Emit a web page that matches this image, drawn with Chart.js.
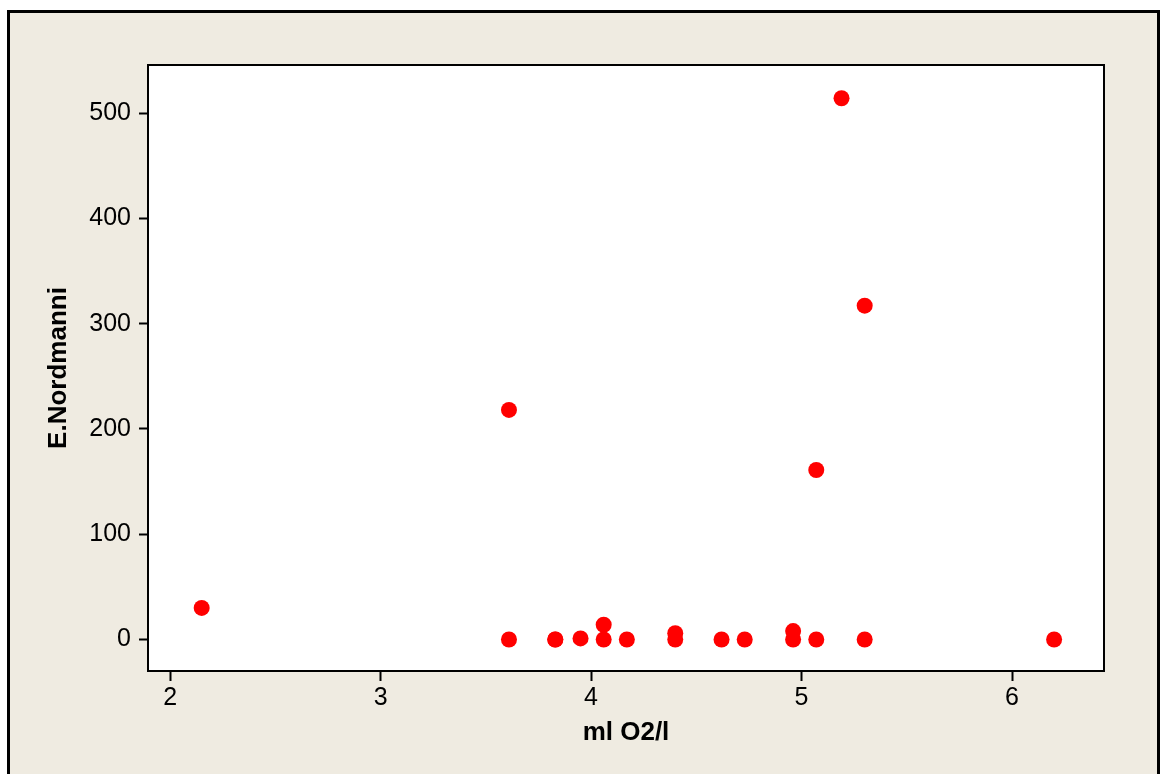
<!DOCTYPE html>
<html>
<head>
<meta charset="utf-8">
<script src="https://cdn.jsdelivr.net/npm/chart.js@4/dist/chart.umd.min.js"></script>
<style>
html,body{margin:0;padding:0;background:#ffffff;}
#wrap{width:1161px;height:774px;}
</style>
</head>
<body>
<div id="wrap"><canvas id="c" width="1161" height="774"></canvas></div>
<script>
// Data
const oxygen = [2.15, 3.61, 3.61, 3.83, 3.83, 3.95, 4.06, 4.06, 4.17, 4.40, 4.40, 4.62, 4.73, 4.96, 4.96, 5.07, 5.07, 5.19, 5.30, 5.30, 6.20];
const nordmanni = [30, 218, 0, 0, 0, 1, 14, 0, 0, 6, 0, 0, 0, 8, 0, 161, 0, 514, 317, 0, 0];
const xTicks = [2, 3, 4, 5, 6];
const yTicks = [0, 100, 200, 300, 400, 500];
const xTitle = 'ml O2/l';
const yTitle = 'E.Nordmanni';

const points = oxygen.map((x, i) => ({x: x, y: nordmanni[i]}));

const framePlugin = {
  id: 'frame',
  beforeDraw(chart) {
    const ctx = chart.ctx;
    const a = chart.chartArea;
    ctx.save();
    ctx.fillStyle = '#ffffff';
    ctx.fillRect(0, 0, chart.width, chart.height);
    ctx.fillStyle = '#efebe1';
    ctx.fillRect(8.5, 11.5, 1150, 800);
    ctx.strokeStyle = '#000000';
    ctx.lineWidth = 3;
    ctx.strokeRect(8.5, 11.5, 1150, 800);
    ctx.fillStyle = '#ffffff';
    ctx.fillRect(a.left, a.top, a.right - a.left, a.bottom - a.top);
    ctx.restore();
  },
  afterDatasetsDraw(chart) {
    const ctx = chart.ctx;
    const a = chart.chartArea;
    ctx.save();
    ctx.strokeStyle = '#000000';
    ctx.lineWidth = 2;
    ctx.strokeRect(a.left, a.top, a.right - a.left, a.bottom - a.top);
    ctx.restore();
  }
};

new Chart(document.getElementById('c'), {
  type: 'scatter',
  data: {
    datasets: [{
      data: points,
      backgroundColor: '#ff0000',
      borderWidth: 0,
      pointRadius: 8,
      pointHoverRadius: 8
    }]
  },
  options: {
    responsive: false,
    animation: false,
    devicePixelRatio: 1,
    layout: {padding: {left: 0, top: 65, right: 57, bottom: 0}},
    plugins: {legend: {display: false}, tooltip: {enabled: false}},
    scales: {
      x: {
        type: 'linear',
        min: 1.895,
        max: 6.437,
        afterBuildTicks: s => { s.ticks = xTicks.map(v => ({value: v})); },
        afterFit: s => { s.height = 103; },
        grid: {display: true, drawOnChartArea: false, drawTicks: true, tickLength: 10, tickColor: '#000000', tickWidth: 2},
        border: {display: true, color: '#000000', width: 2},
        ticks: {color: '#000000', padding: 2, font: {family: 'Liberation Sans, Arial, sans-serif', size: 25}, maxRotation: 0},
        title: {display: true, text: xTitle, color: '#000000', padding: {top: 0, bottom: 26}, font: {family: 'Liberation Sans, Arial, sans-serif', size: 26, weight: 'bold'}}
      },
      y: {
        type: 'linear',
        min: -29.9,
        max: 545.6,
        afterBuildTicks: s => { s.ticks = yTicks.map(v => ({value: v})); },
        afterFit: s => { s.width = 148; },
        grid: {display: true, drawOnChartArea: false, drawTicks: true, tickLength: 9, tickColor: '#000000', tickWidth: 2},
        border: {display: true, color: '#000000', width: 2},
        ticks: {color: '#000000', padding: 8, font: {family: 'Liberation Sans, Arial, sans-serif', size: 25}},
        title: {display: true, text: yTitle, color: '#000000', padding: {top: 43, bottom: 0}, font: {family: 'Liberation Sans, Arial, sans-serif', size: 26, weight: 'bold'}}
      }
    }
  },
  plugins: [framePlugin]
});
</script>
</body>
</html>
